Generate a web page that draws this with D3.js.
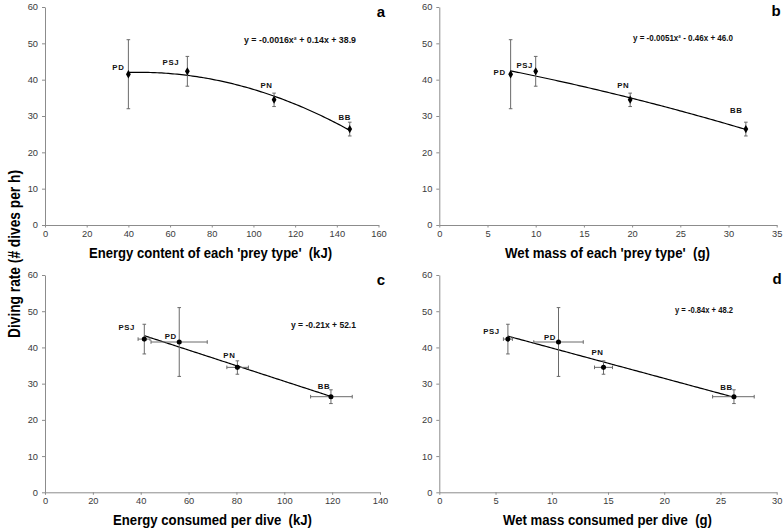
<!DOCTYPE html>
<html><head><meta charset="utf-8">
<script src="https://cdn.jsdelivr.net/npm/d3@7"></script>
<style>
html,body{margin:0;padding:0;background:#fff;}
svg{display:block;}
text{font-family:"Liberation Sans",Arial,sans-serif;}
.pre{white-space:pre;}
</style></head>
<body>
<svg id="chart" width="784" height="531"></svg>
<script>
// ---------------- data ----------------
const preyLabels = ["PD", "PSJ", "PN", "BB"];
const divingRate = [41.5, 42.3, 34.5, 26.4];
const divingRateLo = [32.0, 38.2, 32.6, 24.5];
const divingRateHi = [51.0, 46.4, 36.3, 28.3];

const energyContent = [40.0, 68.3, 109.9, 146.2];      // panel a
const wetMass = [7.4, 10.0, 19.8, 31.8];               // panel b
const energyPerDive = [56.1, 41.5, 80.4, 119.5];       // panel c
const energyPerDiveLo = [44.3, 38.9, 76.0, 111.0];
const energyPerDiveHi = [67.8, 43.9, 85.0, 128.4];
const massPerDive = [10.6, 6.1, 14.6, 26.2];           // panel d
const massPerDiveLo = [8.4, 5.7, 13.8, 24.3];
const massPerDiveHi = [12.8, 6.5, 15.4, 28.0];

const yTicks = [0, 10, 20, 30, 40, 50, 60];
const xTicksA = [0, 20, 40, 60, 80, 100, 120, 140, 160];
const xTicksB = [0, 5, 10, 15, 20, 25, 30, 35];
const xTicksC = [0, 20, 40, 60, 80, 100, 120, 140];
const xTicksD = [0, 5, 10, 15, 20, 25, 30];

const panelLetters = ["a", "b", "c", "d"];
const xTitles = ["Energy content of each 'prey type'  (kJ)", "Wet mass of each 'prey type'  (g)",
                 "Energy consumed per dive  (kJ)", "Wet mass consumed per dive  (g)"];
const equations = ["y = -0.0016x\u00B2 + 0.14x + 38.9", "y = -0.0051x\u00B2 - 0.46x + 46.0",
                   "y = -0.21x + 52.1", "y = -0.84x + 48.2"];
const yTitle = "Diving rate (# dives per h)";

// ---------------- layout ----------------
const layout = [
  {xs: energyContent, xlo: null, xhi: null, xTicks: xTicksA, deg: 2, sym: d3.symbolDiamond,
   left: 45, right: 378.5, top: 7, bottom: 225,
   letterX: 381, letterY: 17, eqX: 300, eqY: 42.5, eqLen: 112, titleX: 210.5, titleY: 257.5, titleLen: 243,
   lab: [[-10, -4], [-16.5, -6], [-7.5, -11.5], [-5, -9.5]]},
  {xs: wetMass, xlo: null, xhi: null, xTicks: xTicksB, deg: 2, sym: d3.symbolDiamond,
   left: 439.3, right: 776.7, top: 7, bottom: 225,
   letterX: 776, letterY: 16, eqX: 683, eqY: 41, eqLen: 100, titleX: 607.5, titleY: 257.5, titleLen: 205,
   lab: [[-11, 0.5], [-11, -3.5], [-7, -12], [-9.5, -16]]},
  {xs: energyPerDive, xlo: energyPerDiveLo, xhi: energyPerDiveHi, xTicks: xTicksC, deg: 1, sym: d3.symbolCircle,
   left: 45, right: 380, top: 275, bottom: 492.3,
   letterX: 381, letterY: 285, eqX: 323.5, eqY: 328, eqLen: 65, titleX: 212.5, titleY: 525, titleLen: 199,
   lab: [[-8.5, -3.5], [-17.5, -9], [-8, -9], [-7, -8]]},
  {xs: massPerDive, xlo: massPerDiveLo, xhi: massPerDiveHi, xTicks: xTicksD, deg: 1, sym: d3.symbolCircle,
   left: 439.3, right: 776.7, top: 275, bottom: 492.3,
   letterX: 777, letterY: 283.5, eqX: 704, eqY: 312.5, eqLen: 58, titleX: 607.5, titleY: 525, titleLen: 209,
   lab: [[-8.5, -2], [-16.5, -5.5], [-6, -12.5], [-7.5, -7]]}
];

// least-squares polynomial fit (trend line, as in the source figure)
function polyfit(xs, ys, deg) {
  const n = deg + 1;
  const A = Array.from({length: n}, () => new Array(n + 1).fill(0));
  for (let r = 0; r < n; r++) {
    for (let c = 0; c < n; c++) A[r][c] = d3.sum(xs, x => Math.pow(x, r + c));
    A[r][n] = d3.sum(xs, (x, i) => ys[i] * Math.pow(x, r));
  }
  for (let i = 0; i < n; i++) {
    let p = i;
    for (let k = i + 1; k < n; k++) if (Math.abs(A[k][i]) > Math.abs(A[p][i])) p = k;
    [A[i], A[p]] = [A[p], A[i]];
    for (let k = i + 1; k < n; k++) {
      const f = A[k][i] / A[i][i];
      for (let j = i; j <= n; j++) A[k][j] -= f * A[i][j];
    }
  }
  const coef = new Array(n).fill(0);
  for (let i = n - 1; i >= 0; i--) {
    let s = A[i][n];
    for (let j = i + 1; j < n; j++) s -= A[i][j] * coef[j];
    coef[i] = s / A[i][i];
  }
  return x => coef.reduce((acc, c, k) => acc + c * Math.pow(x, k), 0);
}

const svg = d3.select("#chart");
const axisColor = "#8c8c8c";
const tickTextColor = "#3a3a3a";

layout.forEach((p, pi) => {
  const xMax = p.xTicks[p.xTicks.length - 1];
  const x = d3.scaleLinear().domain([0, xMax]).range([p.left, p.right]);
  const y = d3.scaleLinear().domain([0, 60]).range([p.bottom, p.top]);
  const g = svg.append("g");

  // axes
  const xAxis = g.append("g").attr("transform", `translate(0,${p.bottom})`)
    .call(d3.axisBottom(x).tickValues(p.xTicks).tickSize(2.5).tickSizeOuter(0).tickPadding(3));
  const yAxis = g.append("g").attr("transform", `translate(${p.left},0)`)
    .call(d3.axisLeft(y).tickValues(yTicks).tickSize(3).tickSizeOuter(0).tickPadding(4));
  [xAxis, yAxis].forEach(a => {
    a.select(".domain").attr("stroke", axisColor).attr("stroke-width", 1);
    a.selectAll(".tick line").attr("stroke", axisColor);
    a.selectAll(".tick text").attr("fill", tickTextColor)
      .style("font-size", "9.3px").style("font-family", "'Liberation Sans', Arial, sans-serif");
  });

  // trend line
  const f = polyfit(p.xs, divingRate, p.deg);
  const [xa, xb] = d3.extent(p.xs);
  const pts = d3.range(0, 101).map(i => xa + (xb - xa) * i / 100);
  g.append("path")
    .attr("d", d3.line().x(v => x(v)).y(v => y(f(v)))(pts))
    .attr("fill", "none").attr("stroke", "#000").attr("stroke-width", 1.2);

  const errColor = "#6a6a6a";
  preyLabels.forEach((lab, i) => {
    const cx = x(p.xs[i]), cy = y(divingRate[i]);
    // vertical error bars
    const eg = g.append("g").attr("stroke", errColor).attr("stroke-width", 1);
    eg.append("line").attr("x1", cx).attr("x2", cx).attr("y1", y(divingRateLo[i])).attr("y2", y(divingRateHi[i]));
    [divingRateLo[i], divingRateHi[i]].forEach(v =>
      eg.append("line").attr("x1", cx - 1.8).attr("x2", cx + 1.8).attr("y1", y(v)).attr("y2", y(v)));
    // horizontal error bars
    if (p.xlo) {
      eg.append("line").attr("y1", cy).attr("y2", cy).attr("x1", x(p.xlo[i])).attr("x2", x(p.xhi[i]));
      [p.xlo[i], p.xhi[i]].forEach(v =>
        eg.append("line").attr("y1", cy - 1.8).attr("y2", cy + 1.8).attr("x1", x(v)).attr("x2", x(v)));
    }
    // point
    g.append("path")
      .attr("d", d3.symbol().type(p.sym).size(p.sym === d3.symbolDiamond ? 20 : 20)())
      .attr("transform", `translate(${cx},${cy})`).attr("fill", "#000");
    // label
    g.append("text").attr("x", cx + p.lab[i][0]).attr("y", cy + p.lab[i][1])
      .attr("text-anchor", "middle").attr("font-size", "7.8px").attr("font-weight", "bold")
      .attr("letter-spacing", "0.6px").attr("fill", "#111").text(lab);
  });

  // equation
  g.append("text").attr("x", p.eqX).attr("y", p.eqY).attr("text-anchor", "middle")
    .attr("font-size", "8.2px").attr("font-weight", "bold").attr("fill", "#111")
    .attr("textLength", p.eqLen).attr("lengthAdjust", "spacingAndGlyphs").text(equations[pi]);

  // panel letter
  g.append("text").attr("x", p.letterX).attr("y", p.letterY).attr("text-anchor", "middle")
    .attr("font-size", "15px").attr("font-weight", "bold").attr("fill", "#000").text(panelLetters[pi]);

  // x title
  g.append("text").attr("class", "pre").attr("x", p.titleX).attr("y", p.titleY).attr("text-anchor", "middle")
    .attr("font-size", "14px").attr("font-weight", "bold").attr("fill", "#000")
    .attr("textLength", p.titleLen).attr("lengthAdjust", "spacingAndGlyphs").text(xTitles[pi]);
});

// y title
svg.append("text")
  .attr("transform", "translate(19.5,254) rotate(-90)")
  .attr("text-anchor", "middle").attr("font-size", "16px").attr("font-weight", "bold").attr("fill", "#000")
  .attr("textLength", 168).attr("lengthAdjust", "spacingAndGlyphs")
  .text(yTitle);
</script>
</body></html>
